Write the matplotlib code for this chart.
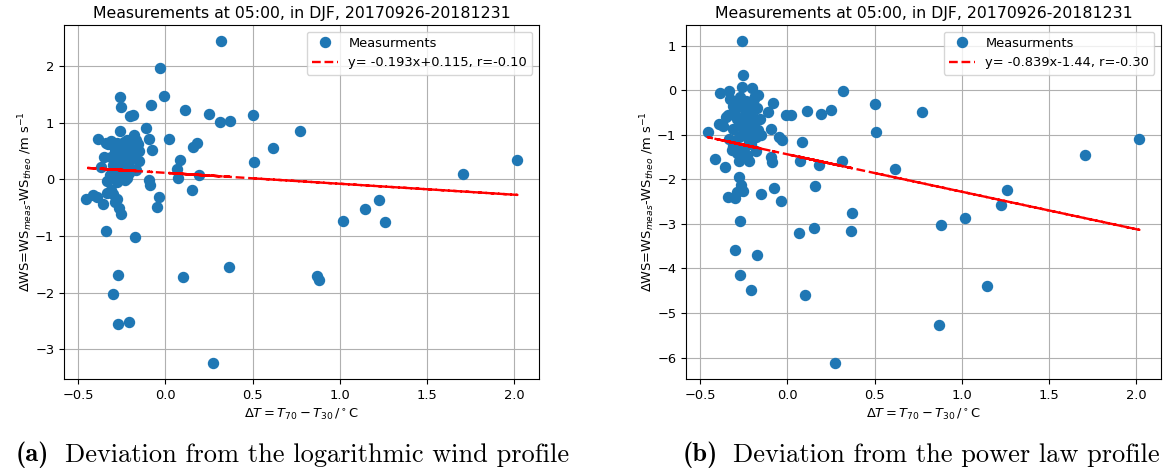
import numpy as np
import matplotlib
matplotlib.use("Agg")
import matplotlib.pyplot as plt

# dT = T70 - T30, deviation from log profile, deviation from power law profile
dT = [0.505, 0.51, 0.62, 0.775, 0.868, 0.88, 1.02, 1.148, 1.225, 1.26, 1.71, 2.02,
      0.321, 0.115, 0.252, 0.311, 0.369, 0.366, 0.021, 0.181, 0.19, 0.16, 0.153,
      0.086, 0.067, 0.071, 0.099, 0.275,
      -0.01, -0.029, -0.038, -0.05, -0.08, -0.076, -0.094, -0.095, -0.089, -0.11,
      -0.153, -0.177, -0.211, -0.272, -0.30, -0.272, -0.26, -0.254, -0.458, -0.414,
      -0.391, -0.385, -0.357, -0.342, -0.334, -0.204, -0.187, -0.263, -0.181, -0.343,
      -0.315, -0.219, -0.172, -0.368, -0.353, -0.166, -0.229, -0.334, -0.315, -0.30,
      -0.277, -0.267, -0.252, -0.29,
      -0.33, -0.30, -0.28, -0.26, -0.24, -0.22, -0.20, -0.29, -0.27, -0.25, -0.23,
      -0.21, -0.19, -0.31, -0.28, -0.26, -0.24, -0.22, -0.20, -0.18, -0.30, -0.27,
      -0.25, -0.23, -0.21, -0.19, -0.29, -0.26, -0.24, -0.22, -0.28, -0.32, -0.17,
      -0.15, -0.16]
dws_log = [1.14, 0.31, 0.55, 0.86, -1.71, -1.77, -0.74, -0.53, -0.37, -0.75, 0.09, 0.35,
           2.44, 1.22, 1.16, 1.01, 1.03, -1.55, 0.72, 0.64, 0.08, 0.57, -0.18,
           0.34, 0.18, 0.03, -1.72, -3.24,
           1.47, 1.97, -0.31, -0.49, 1.32, 0.52, 0.71, -0.02, -0.10, 0.91,
           0.32, -1.02, -2.52, -2.56, -2.03, -1.69, 1.46, 1.28, -0.34, -0.28,
           -0.31, 0.71, -0.43, -0.92, -0.03, 1.11, 1.135, 0.85, 0.79, 0.65,
           0.68, 0.56, 0.59, 0.21, 0.39, 0.16, -0.02, -0.24, -0.18, -0.26,
           -0.35, -0.50, -0.62, -0.40,
           0.62, 0.60, 0.64, 0.58, 0.66, 0.70, 0.62, 0.50, 0.45, 0.48, 0.42,
           0.45, 0.50, 0.40, 0.35, 0.30, 0.33, 0.28, 0.36, 0.40, 0.25, 0.20,
           0.15, 0.20, 0.12, 0.18, 0.10, 0.05, 0.08, 0.02, -0.05, 0.08, 0.70,
           0.50, 0.62]
dws_pow = [-0.31, -0.93, -1.78, -0.48, -5.28, -3.02, -2.88, -4.40, -2.58, -2.24, -1.45, -1.10,
           -0.01, -0.46, -0.44, -1.60, -2.75, -3.17, -0.56, -1.68, -0.54, -2.15, -3.10,
           -1.17, -3.20, -1.60, -4.60, -6.12,
           -0.56, -1.11, -2.49, -1.06, -0.28, -2.20, -0.87, -1.51, -1.62, -0.49,
           -2.33, -3.69, -4.49, -4.15, -3.58, -2.94, 1.10, 0.34, -0.93, -1.54,
           -0.75, -0.07, -1.72, -2.39, -0.03, 0.04, -0.13, 0.07, -1.37, -0.55,
           -0.35, -1.58, -0.40, -0.80, -0.60, -0.90, -1.45, -1.10, -1.25, -2.43,
           -1.96, -2.12, -2.26, -2.29,
           -0.20, -0.45, -0.30, -0.60, -0.25, -0.50, -0.75, -0.65, -0.15, -0.95, -0.40,
           -0.85, -0.62, -0.88, -1.05, -0.35, -0.70, -1.15, -0.95, -1.05, -1.20, -0.80,
           -1.30, -0.55, -1.20, -0.20, -1.40, -1.00, -1.50, -0.30, -1.60, -1.35, -0.10,
           -1.00, -0.65]

fit_log = (-0.193, 0.115)
fit_pow = (-0.839, -1.44)
label_log = "y= -0.193x+0.115, r=-0.10"
label_pow = "y= -0.839x-1.44, r=-0.30"

title = "Measurements at 05:00, in DJF, 20170926-20181231"
xlab = r"$\Delta T = T_{70} - T_{30}\,/^\circ$C"
ylab = r"$\Delta$WS=WS$_{meas}$-WS$_{theo}$ /m s$^{-1}$"

W, H = 1164, 475
fig = plt.figure(figsize=(W / 100, H / 100), dpi=100)

def panel(left_px, y, fit, label):
    ax = fig.add_axes([left_px / W, (H - 379) / H, 475 / W, 354 / H])
    x = np.array(dT)
    ax.plot(x, y, 'o', color='C0', ms=7.2, label="Measurments", zorder=3)
    # fitted line drawn through the unsorted data, like the original
    ax.plot(x, fit[0] * x + fit[1], 'r--', lw=1.7, label=label, zorder=4)
    ax.grid(True)
    ax.set_axisbelow(True)
    ax.set_title(title, fontsize=11.3, pad=5)
    ax.set_xlabel(xlab, fontsize=9.4)
    ax.set_ylabel(ylab, fontsize=9.4, labelpad=0)
    ax.tick_params(labelsize=9.4)
    ax.legend(loc='upper right', fontsize=9.4)
    return ax

ax1 = panel(64, dws_log, fit_log, label_log)
ax2 = panel(686, dws_pow, fit_pow, label_pow)

cap_y = 1 - 455 / H
fs = 19
fig.text(16 / W, cap_y, "(a)", family="cmb10", fontsize=fs, va="center")
fig.text(65 / W, cap_y, "Deviation from the logarithmic wind profile", family="cmr10", fontsize=fs, va="center")
fig.text(683 / W, cap_y, "(b)", family="cmb10", fontsize=fs, va="center")
fig.text(733 / W, cap_y, "Deviation from the power law profile", family="cmr10", fontsize=fs, va="center")

fig.savefig("out.png", dpi=100, facecolor="white")
